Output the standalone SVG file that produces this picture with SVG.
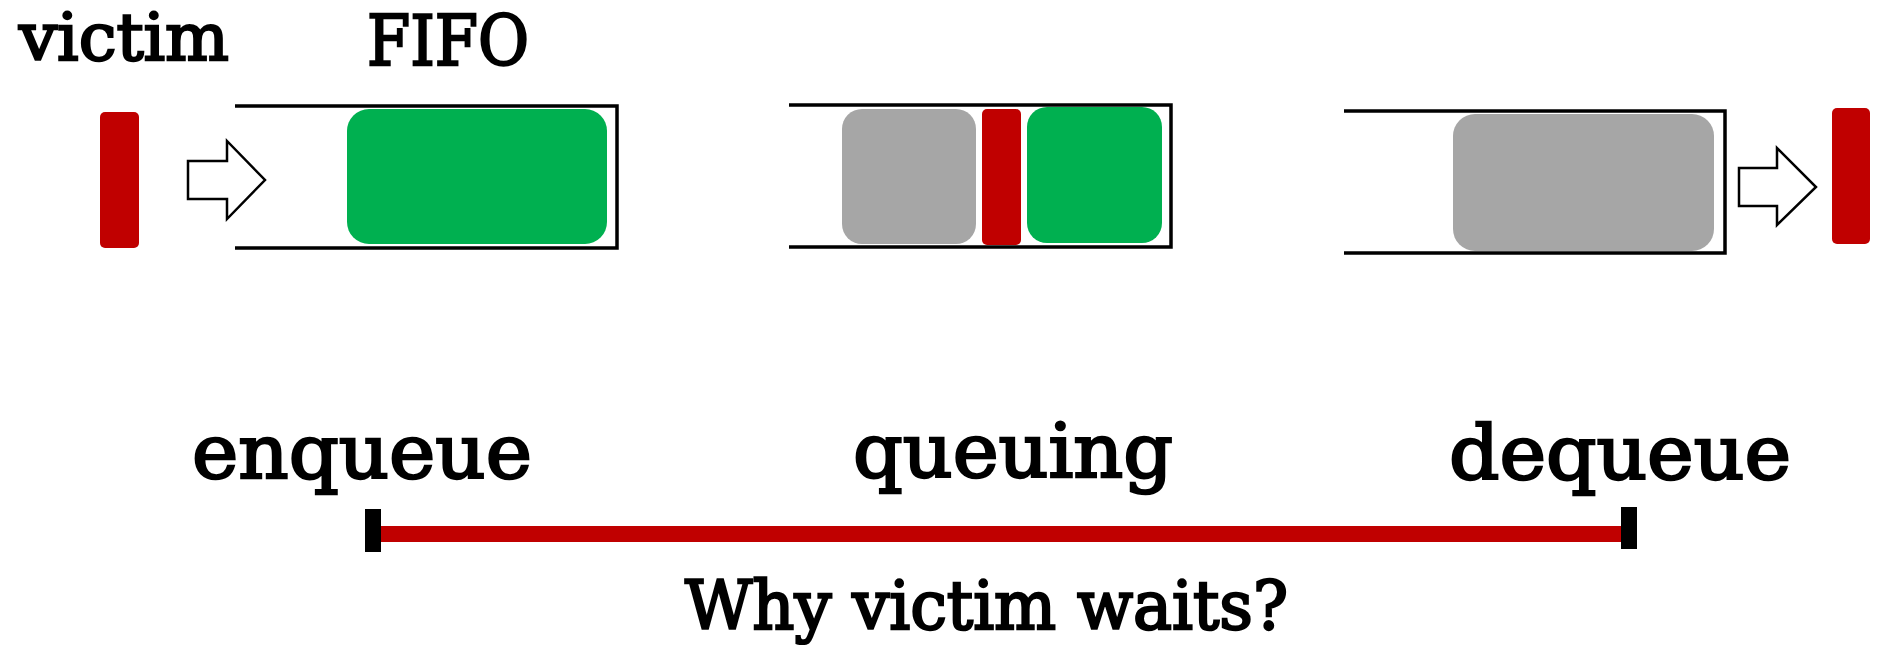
<svg xmlns="http://www.w3.org/2000/svg" width="1878" height="645" viewBox="0 0 1878 645">
<style>
text{font-family:"DejaVu Serif","Liberation Serif",serif;fill:#000;stroke:#000;stroke-width:2.4}
.lbl{font-size:74px}
.ttl{font-size:70px}
.wall{fill:none;stroke:#000;stroke-width:3.5}
.red{fill:#C00000}
.grn{fill:#00B050}
.gry{fill:#A6A6A6}
.arr{fill:#fff;stroke:#000;stroke-width:2.5}
</style>
<rect width="1878" height="645" fill="#fff"/>
<g id="victim-label"><text style="font-size:66px" x="19" y="60" textLength="210" lengthAdjust="spacingAndGlyphs">victim</text></g>
<g id="fifo-label"><text class="ttl" x="367" y="65" textLength="162" lengthAdjust="spacingAndGlyphs">FIFO</text></g>
<g id="victim-in"><rect class="red" x="100" y="112" width="39" height="136" rx="5"/></g>
<g id="arrow-in"><path class="arr" d="M188,161 H227 V141 L265,180 L227,219 V199 H188 Z"/></g>
<g id="fifo1">
<path class="wall" d="M235,106 H617 V248 H235"/>
<rect class="grn" x="347" y="109" width="260" height="135" rx="22"/>
</g>
<g id="fifo2">
<path class="wall" d="M789,105 H1171 V247 H789"/>
<rect class="gry" x="842" y="109" width="134" height="135" rx="20"/>
<rect class="red" x="982" y="109" width="39" height="136" rx="5"/>
<rect class="grn" x="1027" y="107" width="135" height="136" rx="20"/>
</g>
<g id="fifo3">
<path class="wall" d="M1344,111 H1725 V253 H1344"/>
<rect class="gry" x="1453" y="114" width="261" height="137" rx="22"/>
</g>
<g id="arrow-out"><path class="arr" d="M1739,168 H1777 V148 L1816,187 L1777,225 V206 H1739 Z"/></g>
<g id="victim-out"><rect class="red" x="1832" y="108" width="38" height="136" rx="5"/></g>
<g id="enqueue"><text class="lbl" x="192" y="478" textLength="340" lengthAdjust="spacingAndGlyphs">enqueue</text></g>
<g id="queuing"><text class="lbl" x="853" y="477" textLength="320" lengthAdjust="spacingAndGlyphs">queuing</text></g>
<g id="dequeue"><text class="lbl" x="1449" y="479" textLength="342" lengthAdjust="spacingAndGlyphs">dequeue</text></g>
<g id="connectors">
<line x1="381" y1="534" x2="1621" y2="534" stroke="#C00000" stroke-width="16"/>
<rect x="365" y="509" width="16" height="43" fill="#000"/>
<rect x="1621" y="507" width="16" height="42" fill="#000"/>
</g>
<g id="question"><text style="font-size:67px" x="685" y="629" textLength="603" lengthAdjust="spacingAndGlyphs">Why victim waits?</text></g>
</svg>
